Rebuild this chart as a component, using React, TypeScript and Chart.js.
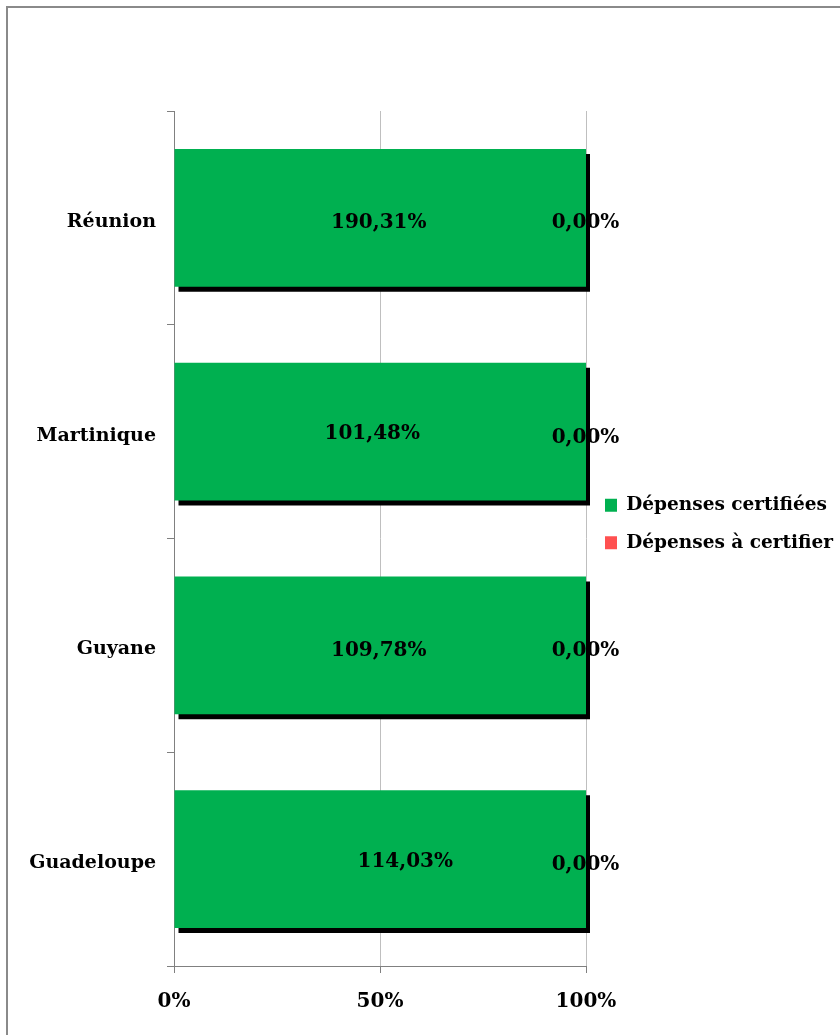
import React, { useEffect, useRef } from 'react';
import { Chart, registerables } from 'chart.js';

Chart.register(...registerables);

// ---- data ----
const categories = ['Réunion', 'Martinique', 'Guyane', 'Guadeloupe'];
const certifiedPct = [190.31, 101.48, 109.78, 114.03];
const toCertifyPct = [0, 0, 0, 0];
const seriesNames = ['Dépenses certifiées', 'Dépenses à certifier'];
const xTickLabels = ['0%', '50%', '100%'];

// label nudges (styling only)
const LABEL_DX = [-1.5, -8, -1.5, 25];
const LABEL_DY = [5, 2, 5, 3];
const ZERO_DX = -0.5;
const ZERO_DY = [5, 6, 5, 6];

const FONT = 'DejaVu Serif';
const GREEN = '#00B050';
const RED = '#FF5050';
const AXIS_GRAY = '#808080';

const fmt = (v: number) => v.toFixed(2).replace('.', ',') + '%';

const shares = (a: number[], b: number[]) =>
  a.map((v, i) => {
    const t = v + b[i];
    return t === 0 ? 0 : (v / t) * 100;
  });

const shadowPlugin = {
  id: 'barShadow',
  beforeDatasetDraw(chart: any, args: any) {
    if (args.index !== 0) return;
    const ctx = chart.ctx;
    ctx.save();
    ctx.shadowColor = '#000000';
    ctx.shadowOffsetX = 4;
    ctx.shadowOffsetY = 5;
    ctx.shadowBlur = 0;
  },
  afterDatasetDraw(chart: any, args: any) {
    if (args.index !== 0) return;
    chart.ctx.restore();
  },
};

const labelPlugin = {
  id: 'barLabels',
  afterDatasetsDraw(chart: any) {
    const ctx = chart.ctx;
    ctx.save();
    ctx.font = `bold 20px "${FONT}"`;
    ctx.fillStyle = '#000';
    ctx.textAlign = 'center';
    ctx.textBaseline = 'middle';
    chart.getDatasetMeta(0).data.forEach((bar: any, i: number) => {
      const { x, y, base } = bar.getProps(['x', 'y', 'base'], true);
      ctx.fillText(fmt(certifiedPct[i]), (x + base) / 2 + LABEL_DX[i], y + LABEL_DY[i]);
    });
    chart.getDatasetMeta(1).data.forEach((bar: any, i: number) => {
      const { x, y, base } = bar.getProps(['x', 'y', 'base'], true);
      ctx.fillText(fmt(toCertifyPct[i]), (x + base) / 2 + ZERO_DX, y + ZERO_DY[i]);
    });
    ctx.restore();
  },
};

export default function App() {
  const ref = useRef<HTMLCanvasElement | null>(null);

  useEffect(() => {
    if (!ref.current) return;
    const certShare = shares(certifiedPct, toCertifyPct);
    const toCertShare = shares(toCertifyPct, certifiedPct);
    const tickFont = { family: FONT, size: 20, weight: 'bold' as const };
    const catFont = { family: FONT, size: 19, weight: 'bold' as const };
    const chart = new Chart(ref.current, {
      type: 'bar',
      data: {
        labels: categories,
        datasets: [
          {
            label: seriesNames[0],
            data: certShare,
            backgroundColor: GREEN,
            borderWidth: 0,
            xAxisID: 'x',
            yAxisID: 'y',
            clip: false as any,
          },
          {
            label: seriesNames[1],
            data: toCertShare,
            backgroundColor: RED,
            borderWidth: 0,
            xAxisID: 'x',
            yAxisID: 'y',
            clip: false as any,
          },
        ],
      },
      options: {
        indexAxis: 'y',
        responsive: false,
        animation: false,
        events: [],
        layout: { padding: { top: 13, left: 0, right: 0, bottom: 0 } },
        datasets: { bar: { barPercentage: 0.645, categoryPercentage: 1 } },
        scales: {
          x: {
            type: 'linear',
            axis: 'x',
            position: 'bottom',
            stacked: true,
            min: 0,
            max: 100,
            ticks: {
              stepSize: 50,
              callback: (_v: any, i: number) => xTickLabels[i] ?? '',
              font: tickFont,
              color: '#000',
              padding: 17,
              maxRotation: 0,
            },
            grid: { color: '#bfbfbf', tickColor: AXIS_GRAY, tickLength: 7, lineWidth: 1 },
            border: { display: true, color: AXIS_GRAY, width: 1 },
            afterFit: (s: any) => {
              s.height = 69;
            },
          },
          xTop: {
            type: 'linear',
            axis: 'x',
            position: 'top',
            display: true,
            grid: { display: false },
            border: { display: false },
            ticks: { display: false },
            afterFit: (s: any) => {
              s.height = 98;
            },
          },
          y: {
            type: 'category',
            position: 'left',
            stacked: true,
            grid: {
              drawOnChartArea: false,
              drawTicks: true,
              tickLength: 7,
              color: AXIS_GRAY,
              offset: true,
            },
            border: { display: true, color: AXIS_GRAY, width: 1 },
            ticks: { font: catFont, color: '#000', padding: 11, labelOffset: 4 },
            afterFit: (s: any) => {
              s.width = 174;
            },
          },
        } as any,
        plugins: {
          legend: {
            display: true,
            position: 'right',
            align: 'center',
            fullSize: true,
            maxWidth: 254,
            labels: {
              boxWidth: 12,
              boxHeight: 13,
              padding: 19,
              color: '#000',
              font: { family: FONT, size: 18.5, weight: 'bold' },
            },
          },
          tooltip: { enabled: false },
        },
      },
      plugins: [shadowPlugin, labelPlugin],
    });
    return () => chart.destroy();
  }, []);

  return (
    <div
      style={{
        position: 'fixed',
        left: 0,
        top: 0,
        width: 840,
        height: 1035,
        overflow: 'hidden',
        background: '#fff',
      }}
    >
      <div
        style={{
          position: 'absolute',
          left: 6,
          top: 6,
          width: 900,
          height: 1100,
          border: '2px solid #8a8a8a',
          boxSizing: 'border-box',
        }}
      />
      <canvas
        ref={ref}
        width={840}
        height={1035}
        style={{ position: 'absolute', left: 0, top: 0, width: 840, height: 1035 }}
      />
    </div>
  );
}
